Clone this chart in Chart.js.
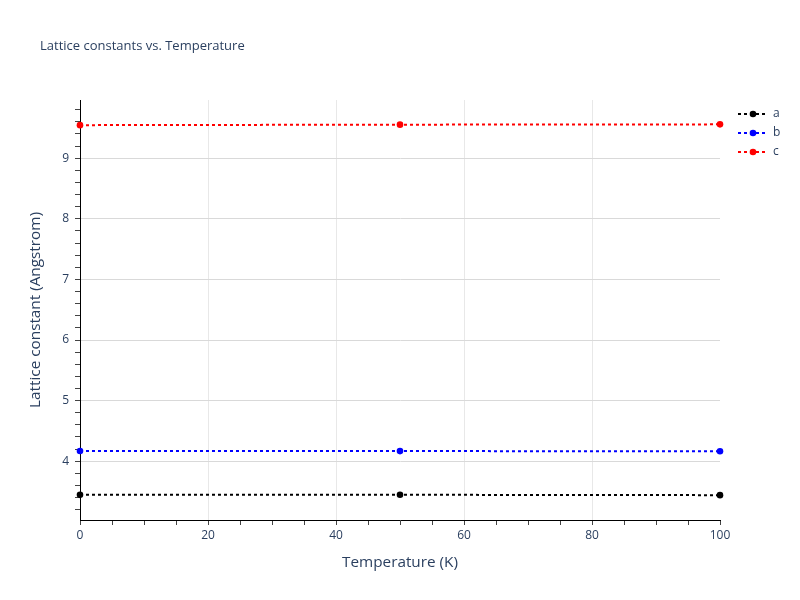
<!DOCTYPE html>
<html>
<head>
<meta charset="utf-8">
<script src="https://cdn.jsdelivr.net/npm/chart.js@4/dist/chart.umd.min.js"></script>
<style>
html,body{margin:0;padding:0;background:#fff;}
#wrap{width:800px;height:600px;position:relative;}
</style>
</head>
<body>
<div id="wrap"><canvas id="c" width="800" height="600"></canvas></div>
<script>
const temperatures = [0, 50, 100];
const seriesA = [3.445, 3.446, 3.440];
const seriesB = [4.168, 4.167, 4.165];
const seriesC = [9.545, 9.553, 9.558];
const seriesNames = ['a', 'b', 'c'];
const seriesColors = ['#000000', '#0000ff', '#ff0000'];
const chartTitle = 'Lattice constants vs. Temperature';
const xTitle = 'Temperature (K)';
const yTitle = 'Lattice constant (Angstrom)';

const FONT = '"Open Sans", verdana, arial, sans-serif';
const TXT = '#2a3f5f';

function mk(vals){ return temperatures.map((t,i)=>({x:t,y:vals[i]})); }
const allSeries = [seriesA, seriesB, seriesC];
const datasets = allSeries.map((s,i)=>({
  label: seriesNames[i],
  data: mk(s),
  borderColor: seriesColors[i],
  backgroundColor: seriesColors[i],
  borderWidth: 2,
  borderDash: [3,3],
  pointRadius: 3.3,
  pointHoverRadius: 3.3,
  pointBorderWidth: 0,
  tension: 0,
  clip: 6
}));

const decor = {
  id: 'decor',
  afterDraw(chart){
    const ctx = chart.ctx;
    ctx.save();
    ctx.fillStyle = TXT;
    ctx.font = '13px ' + FONT;
    ctx.textBaseline = 'middle';
    ctx.textAlign = 'left';
    ctx.fillText(chartTitle, 40, 46);
    chart.data.datasets.forEach((ds,i)=>{
      const y = 114 + i*19;
      const x0 = 738;
      ctx.strokeStyle = ds.borderColor;
      ctx.lineWidth = 2;
      ctx.setLineDash([3,3]);
      ctx.beginPath(); ctx.moveTo(x0, y); ctx.lineTo(x0+30, y); ctx.stroke();
      ctx.setLineDash([]);
      ctx.fillStyle = ds.backgroundColor;
      ctx.beginPath(); ctx.arc(x0+15, y, 3.3, 0, Math.PI*2); ctx.fill();
      ctx.fillStyle = TXT;
      ctx.font = '12px ' + FONT;
      ctx.textAlign = 'left';
      ctx.fillText(ds.label, x0+35, y);
    });
    ctx.restore();
  }
};

new Chart(document.getElementById('c'), {
  type: 'line',
  data: { datasets },
  options: {
    responsive: false,
    animation: false,
    devicePixelRatio: 1,
    layout: { padding: { top: 100, right: 80, left: 0, bottom: 0 } },
    plugins: {
      legend: { display: false },
      title: { display: false },
      tooltip: { enabled: false }
    },
    scales: {
      x: {
        type: 'linear',
        min: 0, max: 100,
        afterFit(s){ s.height = 80; },
        border: { display: true, color: '#000', width: 1 },
        grid: {
          color: (c)=> (c.tick && Math.abs(c.tick.value % 20) < 1e-6 && c.tick.value>0 && c.tick.value<100) ? '#e8e8e8' : 'rgba(0,0,0,0)',
          lineWidth: 1,
          tickColor: '#444',
          tickLength: 5,
          drawTicks: true
        },
        ticks: {
          stepSize: 5,
          autoSkip: false,
          maxRotation: 0,
          color: TXT,
          font: { family: FONT, size: 12 },
          padding: 3,
          callback: (v)=> (Math.abs(v % 20) < 1e-6) ? String(v) : ''
        },
        title: { display: true, text: xTitle, color: TXT, font: { family: FONT, size: 15.3 }, padding: { top: 0, bottom: 28 } }
      },
      y: {
        type: 'linear',
        min: 3.03, max: 9.96,
        afterFit(s){ s.width = 80; },
        border: { display: true, color: '#000', width: 1 },
        grid: {
          color: (c)=> (c.tick && Math.abs(c.tick.value - Math.round(c.tick.value)) < 1e-6) ? '#d9d9d9' : 'rgba(0,0,0,0)',
          lineWidth: 1,
          tickColor: '#444',
          tickLength: 5
        },
        ticks: {
          stepSize: 0.2,
          includeBounds: false,
          autoSkip: false,
          color: TXT,
          font: { family: FONT, size: 12 },
          padding: 6,
          callback: (v)=> (Math.abs(v - Math.round(v)) < 1e-6) ? String(Math.round(v)) : ''
        },
        title: { display: true, text: yTitle, color: TXT, font: { family: FONT, size: 15.3 }, padding: { top: 26, bottom: 0 } }
      }
    }
  },
  plugins: [decor]
});
</script>
</body>
</html>
